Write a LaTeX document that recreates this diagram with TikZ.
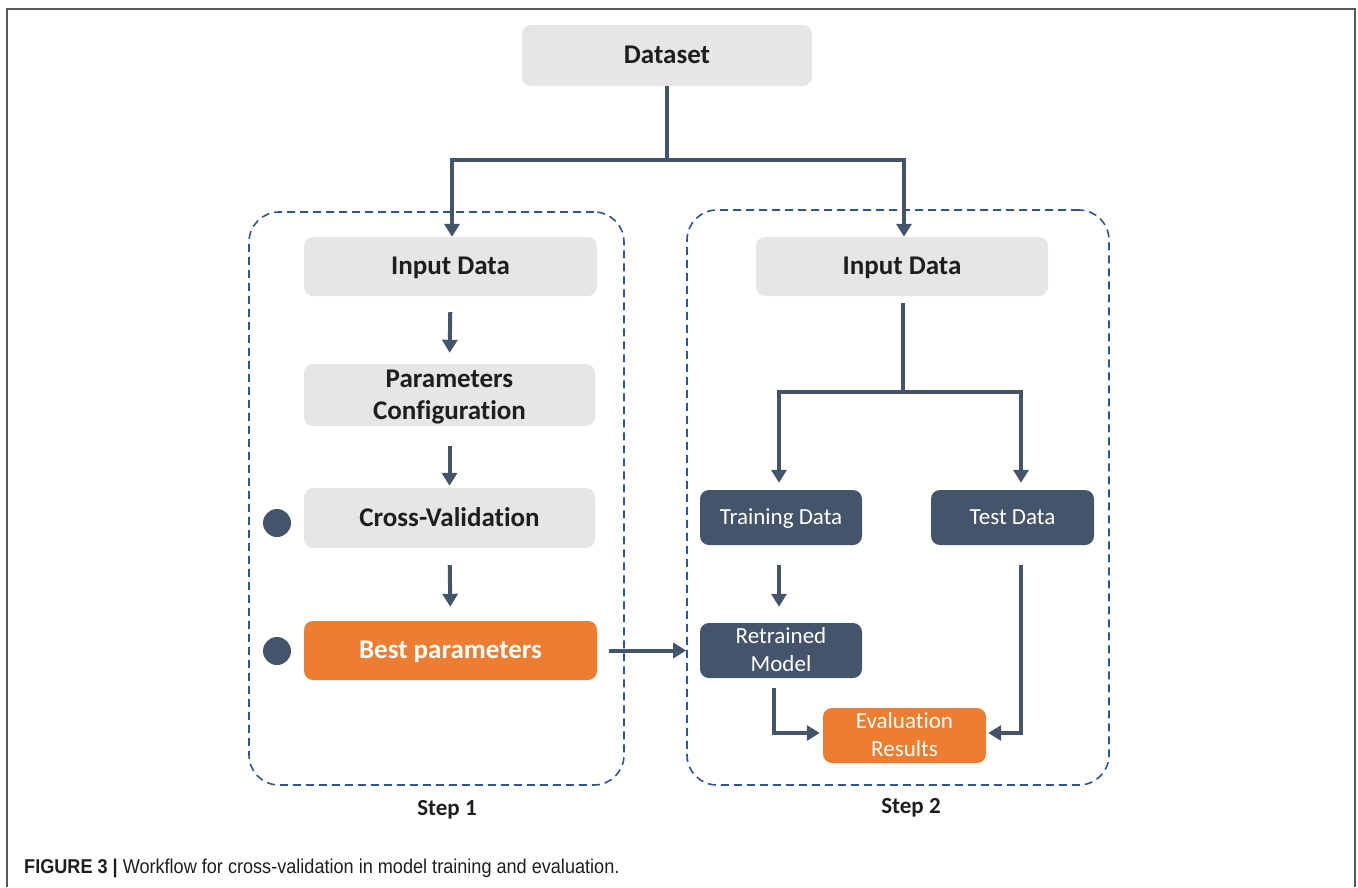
\documentclass[tikz,border=0pt]{standalone}
\usepackage{fontspec}
\setmainfont{Carlito}[Ligatures=NoCommon]
\newfontfamily\capfont[FakeStretch=0.905]{Liberation Sans}
\usetikzlibrary{arrows.meta,calc}

\definecolor{boxgrey}{HTML}{E7E6E5}
\definecolor{slate}{HTML}{44546A}
\definecolor{orng}{HTML}{ED7D31}
\definecolor{dashblue}{HTML}{2F5597}
\definecolor{txt}{HTML}{1E1E1E}
\definecolor{framegrey}{HTML}{5A5A5A}

\tikzset{
  x=1pt, y=-1pt,
  basebox/.style={rounded corners=9pt, inner sep=0pt, align=center, text depth=1pt},
  greybox/.style={basebox, fill=boxgrey, text=txt,
    font=\bfseries\fontsize{27}{32}\selectfont},
  orangebig/.style={basebox, fill=orng, text=white,
    font=\bfseries\fontsize{27}{32}\selectfont},
  darkbox/.style={basebox, fill=slate, text=white,
    font=\fontsize{23}{28}\selectfont},
  orangesmall/.style={basebox, fill=orng, text=white,
    font=\fontsize{23}{28}\selectfont},
  stepframe/.style={draw=dashblue, line width=1.6pt, dash pattern=on 8pt off 5pt,
    rounded corners=30pt, inner sep=0pt},
  conn/.style={draw=slate, line width=4pt,
    -{Triangle[width=15pt,length=13pt]}},
  plain/.style={draw=slate, line width=4pt},
  marker/.style={circle, fill=slate, minimum size=28pt, inner sep=0pt},
  steplabel/.style={font=\bfseries\fontsize{23}{27}\selectfont, text=txt},
}

\begin{document}
\begin{tikzpicture}
\useasboundingbox (0,0) rectangle (1358,887);

% page frame (open at the bottom)
\draw[framegrey, line width=2pt] (7,887) -- (7,9) -- (1355,9) -- (1355,887);

% dashed step frames
\node[stepframe, minimum width=375pt, minimum height=573pt] (stepA) at (436.5,498.5) {};
\node[stepframe, minimum width=422pt, minimum height=575pt] (stepB) at (898,497.5) {};
\node[steplabel] (labA) at (447,810) {Step 1};
\node[steplabel] (labB) at (911,808) {Step 2};

% top node
\node[greybox, minimum width=290pt, minimum height=61pt] (dataset) at (667,55.5) {Dataset};

% step 1 column
\node[greybox, minimum width=293pt, minimum height=59pt] (inA) at (450.5,266.5) {Input Data};
\node[greybox, minimum width=291pt, minimum height=62pt] (params) at (449.5,395) {Parameters\\Configuration};
\node[greybox, minimum width=291pt, minimum height=60pt] (cv) at (449.5,518) {Cross-Validation};
\node[orangebig, minimum width=293pt, minimum height=59pt] (best) at (450.5,650.5) {Best parameters};
\node[marker] (dotA) at (277,523) {};
\node[marker] (dotB) at (277,651) {};

% step 2 column
\node[greybox, minimum width=292pt, minimum height=59pt] (inB) at (902,266.5) {Input Data};
\node[darkbox, minimum width=162pt, minimum height=55pt] (train) at (781,517.5) {Training Data};
\node[darkbox, minimum width=163pt, minimum height=55pt] (test) at (1012.5,517.5) {Test Data};
\node[darkbox, minimum width=162pt, minimum height=55pt] (retr) at (781,650.5) {Retrained\\Model};
\node[orangesmall, minimum width=163pt, minimum height=55pt] (eval) at (904.5,735.5) {Evaluation\\Results};

% split from the dataset into both steps
\coordinate (splitTop) at (667,160);
\draw[plain] (dataset.south) -- (splitTop);
\draw[conn] ($(splitTop)+(2,0)$) -| ([xshift=1.5pt]inA.north);
\draw[conn] ($(splitTop)-(2,0)$) -| ([xshift=2pt]inB.north);

% step 1 chain
\draw[conn, shorten <=16pt, shorten >=11pt] (inA.south) -- (params.north);
\draw[conn, shorten <=20pt, shorten >=2pt] (params.south) -- (cv.north);
\draw[conn, shorten <=17pt, shorten >=14pt] (cv.south) -- (best.north);
\draw[conn, shorten <=12pt] (best.east) -- (best.east -| stepB.west);

% step 2 split
\coordinate (splitB) at (903,392);
\draw[plain, shorten <=7pt] ([xshift=1pt]inB.south) -- (splitB);
\draw[conn, shorten >=7pt] ($(splitB)+(2,0)$) -| ([xshift=-2pt]train.north);
\draw[conn, shorten >=7pt] ($(splitB)-(2,0)$) -| ([xshift=8.5pt]test.north);

% training chain
\draw[conn, shorten <=20pt, shorten >=16pt] ([xshift=-2pt]train.south) -- ([xshift=-2pt]retr.north);
\draw[conn, shorten <=10pt, shorten >=3pt] ([xshift=-7pt]retr.south) |- ([yshift=2.5pt]eval.west);
\draw[conn, shorten <=20pt, shorten >=2pt] ([xshift=8pt]test.south) |- ([yshift=2.5pt]eval.east);

% caption
\node[anchor=west, inner sep=0pt, text=txt, font=\capfont\fontsize{20}{24}\selectfont] (cap) at (24,868)
  {\textbf{FIGURE 3 |} Workflow for cross-validation in model training and evaluation.};
\end{tikzpicture}
\end{document}
